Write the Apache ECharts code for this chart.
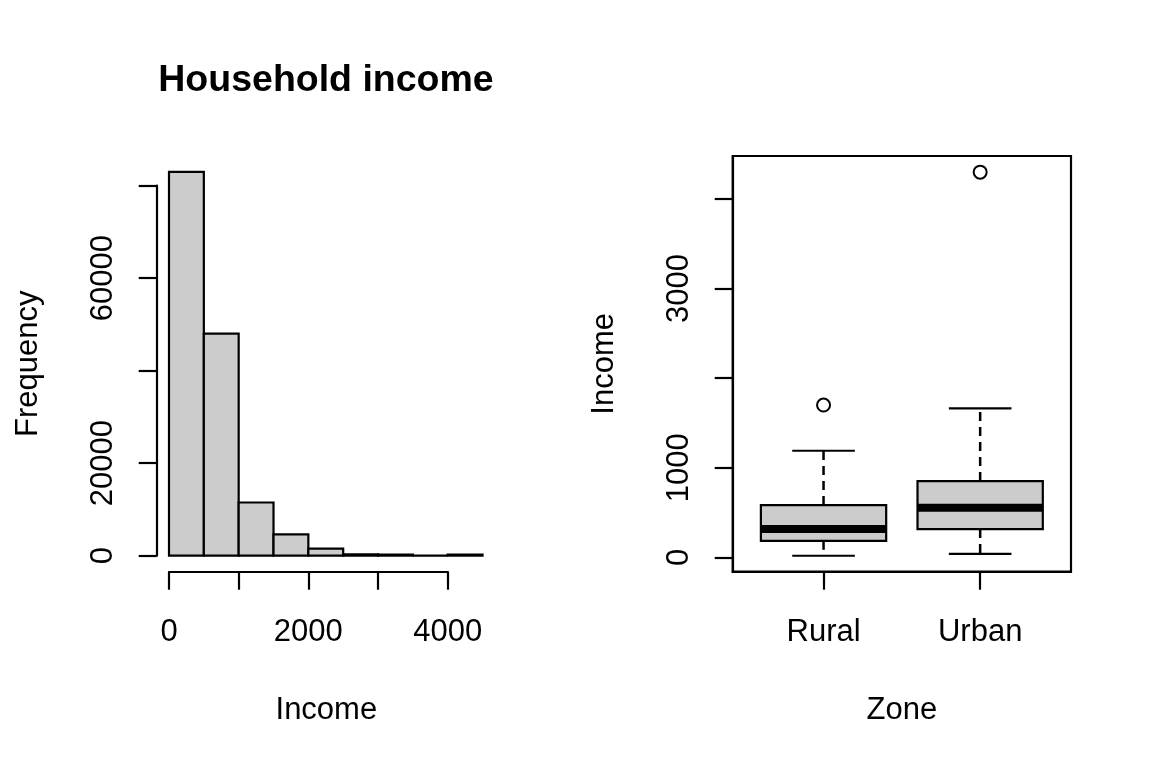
<!DOCTYPE html>
<html>
<head>
<meta charset="utf-8">
<script src="https://cdn.jsdelivr.net/npm/echarts@6/dist/echarts.min.js"></script>
<style>
  html, body { margin: 0; padding: 0; background: #fff; }
  #main { width: 1152px; height: 768px; }
</style>
</head>
<body>
<div id="main"></div>
<script>
// histogram of income (bin breaks + counts)
var incomeBreaks = [0, 500, 1000, 1500, 2000, 2500, 3000, 3500, 4000, 4500];
var incomeFreq = [83000, 48000, 11500, 4600, 1550, 300, 250, 0, 250];
var histXTicks = [0, 1000, 2000, 3000, 4000];
var histXLabels = [0, 2000, 4000];
var histYLabels = [0, 20000, 60000];

// boxplot income by zone
var zones = ['Rural', 'Urban'];
var boxLow = [18, 40];
var boxQ1 = [185, 316];
var boxMed = [316, 554];
var boxQ3 = [584, 852];
var boxHigh = [1190, 1663];
var outlierZone = [0, 1];
var outlierValue = [1700, 4300];
var boxYTicks = [0, 1000, 2000, 3000, 4000];
var boxYLabels = [0, 1000, 3000];

var FONT = "'Liberation Sans', Arial, sans-serif";
var FS = 31;
var LW = 2.2;

var histData = [];
for (var i = 0; i < incomeFreq.length; i++) {
    histData.push([incomeBreaks[i], incomeBreaks[i + 1], incomeFreq[i]]);
}
var boxData = [];
for (var i = 0; i < zones.length; i++) {
    boxData.push([i + 1, boxLow[i], boxQ1[i], boxMed[i], boxQ3[i], boxHigh[i]]);
}
var outlierData = [];
for (var i = 0; i < outlierZone.length; i++) {
    outlierData.push([outlierZone[i] + 1, outlierValue[i]]);
}

function renderBin(params, api) {
    var p0 = api.coord([api.value(0), api.value(2)]);
    var p1 = api.coord([api.value(1), 0]);
    return {
        type: 'rect',
        shape: { x: p0[0], y: p0[1], width: p1[0] - p0[0], height: p1[1] - p0[1] },
        style: { fill: '#cccccc', stroke: '#000', lineWidth: LW }
    };
}

function renderBox(params, api) {
    var x = api.value(0);
    var lo = api.value(1), q1 = api.value(2), md = api.value(3), q3 = api.value(4), hi = api.value(5);
    var half = 0.4, cap = 0.2;
    var tl = api.coord([x - half, q3]);
    var br = api.coord([x + half, q1]);
    var mL = api.coord([x - half, md]), mR = api.coord([x + half, md]);
    var c = api.coord([x, 0])[0];
    var yLo = api.coord([x, lo])[1], yHi = api.coord([x, hi])[1];
    var capL = api.coord([x - cap, 0])[0], capR = api.coord([x + cap, 0])[0];
    var solid = { stroke: '#000', lineWidth: LW };
    var dash = { stroke: '#000', lineWidth: 2.5, lineDash: [9, 6] };
    return {
        type: 'group',
        children: [
            { type: 'line', shape: { x1: c, y1: tl[1], x2: c, y2: yHi }, style: dash },
            { type: 'line', shape: { x1: c, y1: br[1], x2: c, y2: yLo }, style: dash },
            { type: 'line', shape: { x1: capL, y1: yHi, x2: capR, y2: yHi }, style: solid },
            { type: 'line', shape: { x1: capL, y1: yLo, x2: capR, y2: yLo }, style: solid },
            { type: 'rect', shape: { x: tl[0], y: tl[1], width: br[0] - tl[0], height: br[1] - tl[1] },
              style: { fill: '#cccccc', stroke: '#000', lineWidth: LW } },
            { type: 'line', shape: { x1: mL[0], y1: mL[1], x2: mR[0], y2: mR[1] },
              style: { stroke: '#000', lineWidth: 8 } }
        ]
    };
}

function plain(v) { return String(v); }

var axisLineStyle = { show: true, onZero: false, lineStyle: { color: '#000', width: LW } };
var tickStyle = { show: true, inside: false, length: 18, lineStyle: { color: '#000', width: LW } };
var labelBase = { color: '#000', fontFamily: FONT, fontSize: FS };
var nameBase = { color: '#000', fontFamily: FONT, fontSize: FS };

var chart = echarts.init(document.getElementById('main'), null, { renderer: 'canvas' });
var option = {
    backgroundColor: '#fff',
    animation: false,
    textStyle: { fontFamily: FONT },
    title: {
        text: 'Household income',
        left: 321,
        top: 57,
        textAlign: 'center',
        textStyle: { color: '#000', fontFamily: FONT, fontSize: 37.5, fontWeight: 'bold' }
    },
    grid: [
        { left: 169, top: 185.7, width: 278.7, height: 370, show: false },
        { left: 732.7, top: 156, width: 338.3, height: 415.7, show: true,
          borderColor: '#000', borderWidth: LW, backgroundColor: 'transparent' }
    ],
    xAxis: [
        {
            gridIndex: 0, type: 'value', min: 0, max: 4000, interval: 1000, offset: 16,
            axisLine: axisLineStyle, axisTick: Object.assign({ customValues: histXTicks }, tickStyle),
            splitLine: { show: false },
            axisLabel: Object.assign({ margin: 45, customValues: histXLabels, formatter: plain }, labelBase),
            name: 'Income', nameLocation: 'middle', nameGap: 123, nameMoveOverlap: false,
            nameTextStyle: Object.assign({ padding: [0, 0, 0, 36] }, nameBase)
        },
        {
            gridIndex: 1, type: 'value', min: 0.42, max: 2.58,
            axisLine: axisLineStyle, axisTick: Object.assign({ customValues: [1, 2] }, tickStyle),
            splitLine: { show: false },
            axisLabel: Object.assign({
                margin: 45, customValues: [1, 2],
                formatter: function (v) { return zones[Math.round(v) - 1]; }
            }, labelBase),
            name: 'Zone', nameLocation: 'middle', nameGap: 123, nameMoveOverlap: false,
            nameTextStyle: nameBase
        }
    ],
    yAxis: [
        {
            gridIndex: 0, type: 'value', min: 0, max: 80000, interval: 20000, offset: 12.3,
            axisLine: axisLineStyle, axisTick: tickStyle,
            splitLine: { show: false },
            axisLabel: Object.assign({ margin: 38, rotate: 90, customValues: histYLabels, formatter: plain }, labelBase),
            name: 'Frequency', nameLocation: 'middle', nameGap: 113, nameMoveOverlap: false,
            nameTextStyle: Object.assign({ padding: [0, 0, 0, 14] }, nameBase)
        },
        {
            gridIndex: 1, type: 'value', min: -160, max: 4480,
            axisLine: axisLineStyle, axisTick: Object.assign({ customValues: boxYTicks }, tickStyle),
            splitLine: { show: false },
            axisLabel: Object.assign({ margin: 38, rotate: 90, customValues: boxYLabels, formatter: plain }, labelBase),
            name: 'Income', nameLocation: 'middle', nameGap: 113, nameMoveOverlap: false,
            nameTextStyle: nameBase
        }
    ],
    series: [
        {
            type: 'custom', xAxisIndex: 0, yAxisIndex: 0, clip: false,
            renderItem: renderBin, data: histData,
            encode: { x: [0, 1], y: 2 }
        },
        {
            type: 'custom', xAxisIndex: 1, yAxisIndex: 1,
            renderItem: renderBox, data: boxData,
            encode: { x: 0, y: [1, 2, 3, 4, 5] }
        },
        {
            type: 'scatter', xAxisIndex: 1, yAxisIndex: 1,
            symbol: 'emptyCircle', symbolSize: 13,
            itemStyle: { color: '#000', borderColor: '#000', borderWidth: LW, opacity: 1 },
            data: outlierData
        }
    ]
};
chart.setOption(option);
</script>
</body>
</html>
